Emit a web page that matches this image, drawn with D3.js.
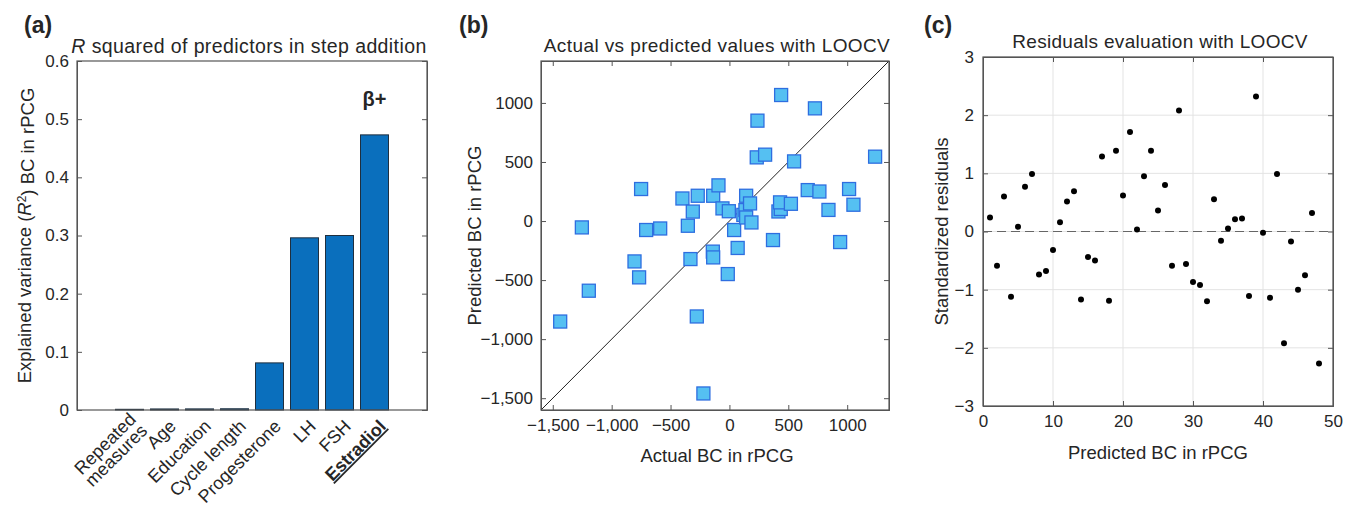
<!DOCTYPE html>
<html>
<head>
<meta charset="utf-8">
<script src="https://cdn.jsdelivr.net/npm/d3@7"></script>
<style>
body { margin: 0; background: #fff; }
svg text { font-family: "Liberation Sans", Arial, Helvetica, sans-serif; fill: #262626; }
</style>
</head>
<body>
<div id="chart"></div>
<script>
let width = 1354, height = 511;

// panel (a) data
let predictors = ["Repeated measures", "Age", "Education", "Cycle length", "Progesterone", "LH", "FSH", "Estradiol"];
let rSquared = [0.0012, 0.0018, 0.0019, 0.0021, 0.081, 0.296, 0.300, 0.473];
let aTicks = [0, 0.1, 0.2, 0.3, 0.4, 0.5, 0.6];

// panel (b) data: actual vs predicted
let actualBC = [-1437, -1253, -1194, -806, -767, -750, -707, -588, -399, -353, -331, -311, -277, -269, -221, -141,
    -138, -138, -93, -59, -14, -5, 40, 70, 118, 136, 142, 142, 175, 187, 232, 238, 303, 370, 416, 436, 430, 439,
    522, 549, 665, 726, 764, 841, 940, 1016, 1053, 1237];
let predictedBC = [-851, -54, -590, -342, -477, 271, -76, -63, 191, -40, -322, 80, -808, 214, -1460, -259,
    -308, 214, 302, 107, -449, 83, -76, -228, 52, 93, 214, 30, 149, -12, 539, 850, 562, -161, 81, 102, 158, 1067,
    146, 505, 262, 954, 250, 94, -178, 271, 138, 545];
let bTicks = [-1500, -1000, -500, 0, 500, 1000];

// panel (c) data: standardized residuals, index 1..48
let residuals = [0.24, -0.59, 0.6, -1.12, 0.08, 0.77, 0.99, -0.74, -0.68, -0.32, 0.16, 0.515, 0.69, -1.17, -0.44, -0.5,
    1.29, -1.19, 1.39, 0.62, 1.71, 0.035, 0.95, 1.39, 0.36, 0.8, -0.59, 2.08, -0.56, -0.87, -0.92, -1.2, 0.555, -0.16,
    0.05, 0.21, 0.225, -1.11, 2.32, -0.02, -1.14, 0.99, -1.92, -0.17, -1.0, -0.75, 0.32, -2.27];
let cxTicks = [0, 10, 20, 30, 40, 50];
let cyTicks = [-3, -2, -1, 0, 1, 2, 3];

let axisColor = "#555";
let tickFont = "17px", labelFont = "18.5px", titleFont = "19px";
let svg = d3.select("#chart").append("svg").attr("width", width).attr("height", height);

function styleAxis(g) {
    g.selectAll("path").attr("stroke", axisColor);
    g.selectAll("line").attr("stroke", axisColor);
    g.selectAll("text").style("font-size", tickFont).attr("fill", "#262626");
}

function box(x0, y0, x1, y1) {
    svg.append("rect").attr("x", x0).attr("y", y0).attr("width", x1 - x0).attr("height", y1 - y0)
        .attr("fill", "none").attr("stroke", axisColor).attr("stroke-width", 1.2);
}

function panelLabel(txt, x) {
    svg.append("text").attr("x", x).attr("y", 33).text(txt)
        .style("font-size", "23px").style("font-weight", "bold").attr("fill", "#000");
}

// ---------- panel (a) ----------
let aL = 77, aR = 427, aT = 61, aB = 410;
let xa = d3.scaleLinear().domain([-0.5, 9.5]).range([aL, aR]);
let ya = d3.scaleLinear().domain([0, 0.6]).range([aB, aT]);

svg.append("g").selectAll("rect").data(rSquared).join("rect")
    .attr("x", (d, i) => xa(i + 1 - 0.4))
    .attr("width", xa(0.8) - xa(0))
    .attr("y", d => ya(d))
    .attr("height", d => ya(0) - ya(d))
    .attr("fill", "#0a6fbd").attr("stroke", "#1f2f3f").attr("stroke-width", 1);

svg.append("g").attr("transform", `translate(${aL},0)`)
    .call(d3.axisLeft(ya).tickValues(aTicks).tickSize(-5).tickPadding(8).tickFormat(d => d === 0 ? "0" : d3.format(".1f")(d)))
    .call(styleAxis);
svg.append("g").attr("transform", `translate(${aR},0)`)
    .call(d3.axisRight(ya).tickValues(aTicks).tickSize(-5).tickFormat(""))
    .call(styleAxis);
box(aL, aT, aR, aB);

// category labels rotated
let catG = svg.append("g");
predictors.forEach((p, i) => {
    let t = catG.append("text")
        .attr("transform", `translate(${xa(i + 1) + 8},${aB + 13}) rotate(-45)`)
        .attr("text-anchor", "end").style("font-size", "18px");
    if (i === 0) {
        t.append("tspan").attr("x", 0).attr("dy", "0.35em").text("Repeated");
        t.append("tspan").attr("x", 0).attr("dy", "0.9em").text("measures");
        t.attr("transform", `translate(${xa(i + 1) + 3},${aB + 6}) rotate(-45)`);
    } else {
        t.attr("dy", "0.35em").text(p);
        if (i === predictors.length - 1) {
            t.style("font-weight", "bold").attr("fill", "#000").style("text-decoration", "underline");
        }
    }
});

svg.append("text").attr("x", xa(8)).attr("y", 106).attr("text-anchor", "middle")
    .text("β+").style("font-size", "20px").style("font-weight", "bold").attr("fill", "#000");

let ta = svg.append("text").attr("x", (aL + aR) / 2 - 3).attr("y", 53).attr("text-anchor", "middle")
    .style("font-size", "19.5px").style("letter-spacing", "0.4px");
ta.append("tspan").style("font-style", "italic").text("R");
ta.append("tspan").text(" squared of predictors in step addition");

let yla = svg.append("text").attr("transform", `translate(31,${(aT + aB) / 2}) rotate(-90)`)
    .attr("text-anchor", "middle").style("font-size", labelFont);
yla.append("tspan").text("Explained variance (");
yla.append("tspan").style("font-style", "italic").text("R");
yla.append("tspan").attr("dy", "-0.45em").style("font-size", "12px").text("2");
yla.append("tspan").attr("dy", "0.45em").text(") BC in rPCG");

panelLabel("(a)", 24);

// ---------- panel (b) ----------
let bL = 541, bR = 889, bT = 61, bB = 410;
let xb = d3.scaleLinear().domain([-1600, 1355]).range([bL, bR]);
let yb = d3.scaleLinear().domain([-1600, 1355]).range([bB, bT]);
let fmtB = d => d < 0 ? "\u2212" + d3.format(",")(-d) : String(d);

svg.append("g").attr("transform", `translate(0,${bB})`)
    .call(d3.axisBottom(xb).tickValues(bTicks).tickSize(-5).tickPadding(9).tickFormat(fmtB)).call(styleAxis);
svg.append("g").attr("transform", `translate(0,${bT})`)
    .call(d3.axisTop(xb).tickValues(bTicks).tickSize(-5).tickFormat("")).call(styleAxis);
svg.append("g").attr("transform", `translate(${bL},0)`)
    .call(d3.axisLeft(yb).tickValues(bTicks).tickSize(-5).tickPadding(8).tickFormat(fmtB)).call(styleAxis);
svg.append("g").attr("transform", `translate(${bR},0)`)
    .call(d3.axisRight(yb).tickValues(bTicks).tickSize(-5).tickFormat("")).call(styleAxis);

svg.append("line").attr("x1", xb(-1600)).attr("y1", yb(-1600)).attr("x2", xb(1355)).attr("y2", yb(1355))
    .attr("stroke", "#222").attr("stroke-width", 1);

let sq = 13;
svg.append("g").selectAll("rect").data(actualBC).join("rect")
    .attr("x", (d, i) => xb(d) - sq / 2)
    .attr("y", (d, i) => yb(predictedBC[i]) - sq / 2)
    .attr("width", sq).attr("height", sq)
    .attr("fill", "#55c0f2").attr("stroke", "#2e6ee0").attr("stroke-width", 1.3);

box(bL, bT, bR, bB);

svg.append("text").attr("x", (bL + bR) / 2 + 2).attr("y", 52).attr("text-anchor", "middle")
    .style("font-size", titleFont).style("letter-spacing", "0.4px").text("Actual vs predicted values with LOOCV");
svg.append("text").attr("x", (bL + bR) / 2 + 2).attr("y", 462).attr("text-anchor", "middle")
    .style("font-size", labelFont).text("Actual BC in rPCG");
svg.append("text").attr("transform", `translate(481,${(bT + bB) / 2}) rotate(-90)`).attr("text-anchor", "middle")
    .style("font-size", labelFont).text("Predicted BC in rPCG");
panelLabel("(b)", 459);

// ---------- panel (c) ----------
let cL = 983, cR = 1333, cT = 57, cB = 406;
let xc = d3.scaleLinear().domain([0, 50]).range([cL, cR]);
let yc = d3.scaleLinear().domain([-3, 3]).range([cB, cT]);

let grid = svg.append("g");
grid.selectAll(".vgrid").data(cxTicks).join("line").attr("class", "vgrid")
    .attr("x1", d => xc(d)).attr("x2", d => xc(d)).attr("y1", cT).attr("y2", cB)
    .attr("stroke", "#e3e3e3").attr("stroke-width", 1);
grid.selectAll(".hgrid").data(cyTicks).join("line").attr("class", "hgrid")
    .attr("y1", d => yc(d)).attr("y2", d => yc(d)).attr("x1", cL).attr("x2", cR)
    .attr("stroke", "#e3e3e3").attr("stroke-width", 1);

svg.append("g").attr("transform", `translate(0,${cB})`)
    .call(d3.axisBottom(xc).tickValues(cxTicks).tickSize(-5).tickPadding(9)).call(styleAxis);
svg.append("g").attr("transform", `translate(0,${cT})`)
    .call(d3.axisTop(xc).tickValues(cxTicks).tickSize(-5).tickFormat("")).call(styleAxis);
svg.append("g").attr("transform", `translate(${cL},0)`)
    .call(d3.axisLeft(yc).tickValues(cyTicks).tickSize(-5).tickPadding(9).tickFormat(d => d < 0 ? "\u2212" + (-d) : d)).call(styleAxis);
svg.append("g").attr("transform", `translate(${cR},0)`)
    .call(d3.axisRight(yc).tickValues(cyTicks).tickSize(-5).tickFormat("")).call(styleAxis);

svg.append("line").attr("x1", cL).attr("x2", cR).attr("y1", yc(0)).attr("y2", yc(0))
    .attr("stroke", "#666").attr("stroke-width", 1.2).attr("stroke-dasharray", "9,5");

svg.append("g").selectAll("circle").data(residuals).join("circle")
    .attr("cx", (d, i) => xc(i + 1)).attr("cy", d => yc(d)).attr("r", 3).attr("fill", "#000");

box(cL, cT, cR, cB);

svg.append("text").attr("x", (cL + cR) / 2 + 2).attr("y", 48).attr("text-anchor", "middle")
    .style("font-size", titleFont).style("letter-spacing", "0.3px").text("Residuals evaluation with LOOCV");
svg.append("text").attr("x", (cL + cR) / 2).attr("y", 459).attr("text-anchor", "middle")
    .style("font-size", labelFont).text("Predicted BC in rPCG");
svg.append("text").attr("transform", `translate(948,${(cT + cB) / 2}) rotate(-90)`).attr("text-anchor", "middle")
    .style("font-size", labelFont).text("Standardized residuals");
panelLabel("(c)", 924);
</script>
</body>
</html>
